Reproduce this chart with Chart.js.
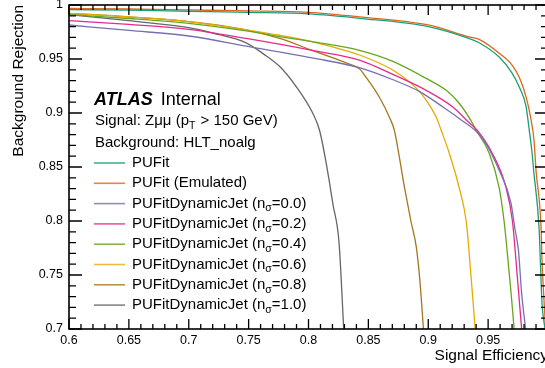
<!DOCTYPE html>
<html>
<head>
<meta charset="utf-8">
<title>Background rejection vs signal efficiency</title>
<script src="https://cdn.jsdelivr.net/npm/chart.js@4.4.0/dist/chart.umd.min.js"></script>
<style>
  html, body { margin: 0; padding: 0; background: #fff; overflow: hidden; }
  #wrap { position: absolute; left: 0; top: 0; width: 552px; height: 368px; }
</style>
</head>
<body>
<div id="wrap"><canvas id="roc" width="552" height="368"></canvas></div>
<script>
// values (signal efficiency -> background rejection)
const effPUFit = [0.6, 0.65, 0.7, 0.75, 0.8, 0.8425, 0.9, 0.934, 0.9425, 0.959, 0.97, 0.976, 0.9817, 0.984, 0.9867, 0.988, 0.9925, 0.995, 0.9975];
const rejPUFit = [0.9958, 0.9952, 0.9942, 0.9932, 0.9918, 0.9877, 0.980, 0.969, 0.965, 0.952, 0.937, 0.924, 0.906, 0.887, 0.863, 0.847, 0.794, 0.724, 0.70];

const effEmul = [0.6, 0.65, 0.7, 0.75, 0.8, 0.8425, 0.9, 0.934, 0.9425, 0.959, 0.97, 0.976, 0.9817, 0.9858, 0.9883, 0.99, 0.9942, 0.995, 0.997, 0.998];
const rejEmul = [0.9969, 0.9963, 0.9954, 0.9945, 0.9932, 0.989, 0.9815, 0.9705, 0.9682, 0.9556, 0.9444, 0.933, 0.915, 0.894, 0.875, 0.847, 0.794, 0.764, 0.72, 0.70];

const effN00 = [0.6, 0.65, 0.7, 0.748, 0.803, 0.8425, 0.87, 0.8925, 0.9117, 0.9258, 0.9453, 0.9592, 0.969, 0.9725, 0.9753, 0.978, 0.9813];
const rejN00 = [0.9815, 0.9765, 0.9713, 0.962, 0.951, 0.942, 0.931, 0.920, 0.906, 0.895, 0.8765, 0.847, 0.817, 0.792, 0.773, 0.733, 0.70];

const effN02 = [0.6, 0.65, 0.7, 0.748, 0.803, 0.8425, 0.87, 0.8983, 0.92, 0.9342, 0.9408, 0.9533, 0.9647, 0.9703, 0.9744, 0.978];
const rejN02 = [0.9855, 0.982, 0.9775, 0.969, 0.958, 0.949, 0.936, 0.921, 0.906, 0.891, 0.884, 0.863, 0.832, 0.80, 0.748, 0.70];

const effN04 = [0.6, 0.65, 0.7, 0.748, 0.776, 0.803, 0.8425, 0.87, 0.8983, 0.915, 0.9258, 0.9367, 0.94, 0.9508, 0.9592, 0.9633, 0.9658, 0.9692, 0.9717];
const rejN04 = [0.991, 0.9875, 0.983, 0.976, 0.9707, 0.966, 0.958, 0.948, 0.932, 0.921, 0.909, 0.891, 0.884, 0.863, 0.831, 0.80, 0.773, 0.733, 0.70];

const effN06 = [0.6, 0.65, 0.7, 0.748, 0.776, 0.803, 0.8425, 0.87, 0.89, 0.8983, 0.9067, 0.9108, 0.9175, 0.9258, 0.9317, 0.9333, 0.9392];
const rejN06 = [0.9923, 0.989, 0.9846, 0.977, 0.972, 0.966, 0.9537, 0.940, 0.923, 0.912, 0.896, 0.884, 0.863, 0.831, 0.80, 0.782, 0.70];

const effN08 = [0.6, 0.65, 0.7, 0.748, 0.776, 0.803, 0.8325, 0.8425, 0.8475, 0.859, 0.8686, 0.8717, 0.88, 0.8855, 0.89, 0.893, 0.896];
const rejN08 = [0.9923, 0.989, 0.9846, 0.977, 0.969, 0.958, 0.946, 0.941, 0.934, 0.915, 0.8935, 0.884, 0.832, 0.80, 0.776, 0.745, 0.70];

const effN10 = [0.6, 0.65, 0.7, 0.72, 0.748, 0.762, 0.776, 0.79, 0.8036, 0.8092, 0.8147, 0.8205, 0.8255, 0.8294];
const rejN10 = [0.991, 0.9855, 0.979, 0.974, 0.965, 0.955, 0.943, 0.924, 0.8997, 0.884, 0.854, 0.815, 0.78, 0.70];

const seriesLabels = ['PUFit', 'PUFit (Emulated)',
  'PUFitDynamicJet (nσ=0.0)', 'PUFitDynamicJet (nσ=0.2)', 'PUFitDynamicJet (nσ=0.4)',
  'PUFitDynamicJet (nσ=0.6)', 'PUFitDynamicJet (nσ=0.8)', 'PUFitDynamicJet (nσ=1.0)'];
const seriesColors = ['#1b9e77', '#e0661a', '#7570b3', '#e7298a', '#66a61e', '#e6ab02', '#a6761d', '#666666'];
const seriesX = [effPUFit, effEmul, effN00, effN02, effN04, effN06, effN08, effN10];
const seriesY = [rejPUFit, rejEmul, rejN00, rejN02, rejN04, rejN06, rejN08, rejN10];

const xTicks = [0.6, 0.65, 0.7, 0.75, 0.8, 0.85, 0.9, 0.95, 1];
const yTicks = [0.7, 0.75, 0.8, 0.85, 0.9, 0.95, 1];

const FONT = "'Liberation Sans', Arial, Helvetica, sans-serif";

function fmt(v) {
    return String(parseFloat(v.toFixed(2)));
}

// ROOT style frame: box with inward major/minor ticks on all four sides
const atlasFrame = {
    id: 'atlasFrame',
    afterDatasetsDraw(chart) {
        const { ctx, chartArea: a, scales: { x, y } } = chart;
        ctx.save();
        ctx.strokeStyle = '#000';
        ctx.lineWidth = 1.6;
        ctx.strokeRect(a.left, a.top, a.right - a.left, a.bottom - a.top);
        ctx.beginPath();
        for (let i = 60; i <= 100; i++) {
            const px = x.getPixelForValue(i / 100);
            const len = i % 5 === 0 ? 10 : 5;
            ctx.moveTo(px, a.bottom); ctx.lineTo(px, a.bottom - len);
            ctx.moveTo(px, a.top); ctx.lineTo(px, a.top + len);
        }
        for (let i = 70; i <= 100; i++) {
            const py = y.getPixelForValue(i / 100);
            const len = i % 5 === 0 ? 13 : 7;
            ctx.moveTo(a.left, py); ctx.lineTo(a.left + len, py);
            ctx.moveTo(a.right, py); ctx.lineTo(a.right - len, py);
        }
        ctx.lineWidth = 1.3;
        ctx.stroke();
        ctx.restore();
    }
};

// ATLAS label block and the legend (with subscripts)
const atlasLegend = {
    id: 'atlasLegend',
    afterDraw(chart) {
        const ctx = chart.ctx;
        const left = chart.chartArea.left;
        ctx.save();
        ctx.fillStyle = '#000';
        ctx.textBaseline = 'middle';
        ctx.textAlign = 'left';

        let x0 = left + 25;
        ctx.font = 'italic bold 18px ' + FONT;
        ctx.fillText('ATLAS', x0, 100);
        const w = ctx.measureText('ATLAS').width;
        ctx.font = '18px ' + FONT;
        ctx.fillText('Internal', x0 + w + 8, 100);

        x0 = left + 26;
        ctx.font = '15px ' + FONT;
        let t = 'Signal: Zμμ (p';
        ctx.fillText(t, x0, 121);
        let cx = x0 + ctx.measureText(t).width;
        ctx.font = '10.5px ' + FONT;
        ctx.fillText('T', cx, 126);
        cx += ctx.measureText('T').width + 1;
        ctx.font = '15px ' + FONT;
        ctx.fillText(' > 150 GeV)', cx, 121);

        ctx.fillText('Background: HLT_noalg', x0, 143);

        chart.data.datasets.forEach((ds, i) => {
            const yy = 163 + i * 20.3;
            ctx.strokeStyle = ds.borderColor;
            ctx.globalAlpha = 0.8;
            ctx.lineWidth = 1.6;
            ctx.beginPath();
            ctx.moveTo(left + 25, yy);
            ctx.lineTo(left + 56, yy);
            ctx.stroke();
            ctx.globalAlpha = 1;

            const tx = left + 63;
            const parts = ds.label.split('σ');
            ctx.font = '15px ' + FONT;
            ctx.fillText(parts[0], tx, yy);
            if (parts.length > 1) {
                let px = tx + ctx.measureText(parts[0]).width;
                ctx.font = '10.5px ' + FONT;
                ctx.fillText('σ', px, yy + 5);
                px += ctx.measureText('σ').width;
                ctx.font = '15px ' + FONT;
                ctx.fillText(parts[1], px, yy);
            }
        });
        ctx.restore();
    }
};

const datasets = seriesLabels.map((label, i) => ({
    label: label,
    data: seriesX[i].map((v, j) => ({ x: v, y: seriesY[i][j] })),
    borderColor: seriesColors[i],
    backgroundColor: seriesColors[i],
    borderWidth: 1.3,
    pointRadius: 0,
    showLine: true,
    fill: false,
    cubicInterpolationMode: 'monotone'
}));

new Chart(document.getElementById('roc').getContext('2d'), {
    type: 'scatter',
    data: { datasets: datasets },
    options: {
        responsive: false,
        animation: false,
        devicePixelRatio: 1,
        events: [],
        layout: { padding: { top: 5, right: 4, left: 0, bottom: 0 } },
        plugins: {
            legend: { display: false },
            tooltip: { enabled: false }
        },
        scales: {
            x: {
                type: 'linear',
                min: xTicks[0],
                max: xTicks[xTicks.length - 1],
                grid: { display: false, drawTicks: false },
                border: { display: false },
                afterBuildTicks: s => { s.ticks = xTicks.map(v => ({ value: v })); },
                afterFit: s => { s.height = 39; s.paddingLeft = 0; s.paddingRight = 0; },
                ticks: {
                    autoSkip: false,
                    maxRotation: 0,
                    padding: 4,
                    color: '#000',
                    font: { family: FONT, size: 12.5 },
                    callback: v => (v >= 1 ? '' : fmt(v))
                },
                title: {
                    display: true,
                    text: 'Signal Efficiency',
                    align: 'end',
                    color: '#000',
                    font: { family: FONT, size: 15.5 },
                    padding: { top: 0, bottom: 3 }
                }
            },
            y: {
                type: 'linear',
                min: yTicks[0],
                max: yTicks[yTicks.length - 1],
                grid: { display: false, drawTicks: false },
                border: { display: false },
                afterBuildTicks: s => { s.ticks = yTicks.map(v => ({ value: v })); },
                afterFit: s => { s.width = 69; s.paddingTop = 0; s.paddingBottom = 0; },
                ticks: {
                    autoSkip: false,
                    padding: 6,
                    color: '#000',
                    font: { family: FONT, size: 12.5 },
                    callback: v => fmt(v)
                },
                title: {
                    display: true,
                    text: 'Background Rejection',
                    align: 'end',
                    color: '#000',
                    font: { family: FONT, size: 15.5 },
                    padding: { top: 9, bottom: 0 }
                }
            }
        }
    },
    plugins: [atlasFrame, atlasLegend]
});
</script>
</body>
</html>
